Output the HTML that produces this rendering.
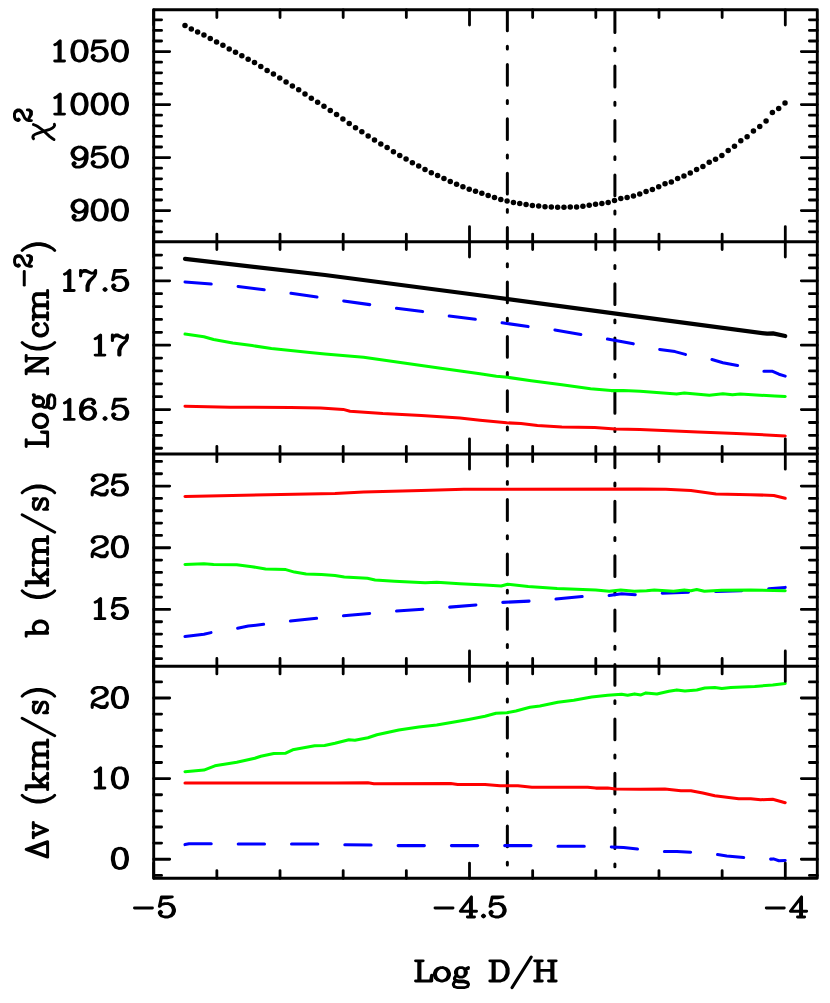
<!DOCTYPE html>
<html><head><meta charset="utf-8"><title>chart</title>
<style>html,body{margin:0;padding:0;background:#fff}svg{display:block}</style>
</head><body>
<svg width="830" height="1003" viewBox="0 0 830 1003">
<rect width="830" height="1003" fill="#fff"/>
<clipPath id="cp"><rect x="153.70" y="9.80" width="663.60" height="868.50"/></clipPath>
<g clip-path="url(#cp)">
<path d="M507.35 10.00V878.30" stroke="#000" stroke-width="3.0" stroke-linecap="round" stroke-dasharray="20.8 15.4 2.9 15.3" fill="none"/>
<path d="M614.90 11.70V878.30" stroke="#000" stroke-width="3.0" stroke-linecap="round" stroke-dasharray="20.8 15.4 2.9 15.3" fill="none"/>
</g>
<g fill="#000"><circle cx="185.00" cy="25.60" r="2.75"/><circle cx="191.32" cy="28.88" r="2.75"/><circle cx="197.63" cy="31.96" r="2.75"/><circle cx="203.95" cy="35.05" r="2.75"/><circle cx="210.26" cy="38.52" r="2.75"/><circle cx="216.58" cy="41.99" r="2.75"/><circle cx="222.90" cy="45.27" r="2.75"/><circle cx="229.21" cy="48.93" r="2.75"/><circle cx="235.53" cy="52.20" r="2.75"/><circle cx="241.84" cy="55.67" r="2.75"/><circle cx="248.16" cy="59.34" r="2.75"/><circle cx="254.48" cy="62.61" r="2.75"/><circle cx="260.79" cy="66.47" r="2.75"/><circle cx="267.11" cy="70.52" r="2.75"/><circle cx="273.42" cy="73.99" r="2.75"/><circle cx="279.74" cy="78.04" r="2.75"/><circle cx="286.06" cy="81.89" r="2.75"/><circle cx="292.37" cy="85.94" r="2.75"/><circle cx="298.69" cy="89.80" r="2.75"/><circle cx="305.00" cy="94.04" r="2.75"/><circle cx="311.32" cy="98.28" r="2.75"/><circle cx="317.64" cy="102.33" r="2.75"/><circle cx="323.95" cy="106.37" r="2.75"/><circle cx="330.27" cy="110.42" r="2.75"/><circle cx="336.58" cy="114.50" r="2.75"/><circle cx="342.90" cy="118.90" r="2.75"/><circle cx="349.22" cy="123.50" r="2.75"/><circle cx="355.53" cy="127.80" r="2.75"/><circle cx="361.85" cy="131.80" r="2.75"/><circle cx="368.16" cy="135.90" r="2.75"/><circle cx="374.48" cy="139.90" r="2.75"/><circle cx="380.80" cy="144.00" r="2.75"/><circle cx="387.11" cy="147.60" r="2.75"/><circle cx="393.43" cy="151.70" r="2.75"/><circle cx="399.74" cy="155.50" r="2.75"/><circle cx="406.06" cy="159.00" r="2.75"/><circle cx="412.38" cy="162.70" r="2.75"/><circle cx="418.69" cy="166.10" r="2.75"/><circle cx="425.01" cy="169.40" r="2.75"/><circle cx="431.32" cy="172.70" r="2.75"/><circle cx="437.64" cy="175.40" r="2.75"/><circle cx="443.96" cy="178.50" r="2.75"/><circle cx="450.27" cy="181.50" r="2.75"/><circle cx="456.59" cy="184.20" r="2.75"/><circle cx="462.90" cy="186.70" r="2.75"/><circle cx="469.22" cy="189.30" r="2.75"/><circle cx="475.54" cy="191.30" r="2.75"/><circle cx="481.85" cy="193.30" r="2.75"/><circle cx="488.17" cy="195.50" r="2.75"/><circle cx="494.48" cy="197.60" r="2.75"/><circle cx="500.80" cy="199.60" r="2.75"/><circle cx="507.12" cy="201.10" r="2.75"/><circle cx="513.43" cy="202.50" r="2.75"/><circle cx="519.75" cy="203.60" r="2.75"/><circle cx="526.06" cy="204.60" r="2.75"/><circle cx="532.38" cy="205.50" r="2.75"/><circle cx="538.70" cy="206.10" r="2.75"/><circle cx="545.01" cy="206.70" r="2.75"/><circle cx="551.33" cy="207.10" r="2.75"/><circle cx="557.64" cy="207.30" r="2.75"/><circle cx="563.96" cy="207.30" r="2.75"/><circle cx="570.28" cy="207.10" r="2.75"/><circle cx="576.59" cy="206.90" r="2.75"/><circle cx="582.91" cy="206.30" r="2.75"/><circle cx="589.22" cy="205.30" r="2.75"/><circle cx="595.54" cy="204.20" r="2.75"/><circle cx="601.86" cy="203.60" r="2.75"/><circle cx="608.17" cy="202.50" r="2.75"/><circle cx="614.49" cy="200.50" r="2.75"/><circle cx="620.80" cy="198.40" r="2.75"/><circle cx="627.12" cy="197.40" r="2.75"/><circle cx="633.44" cy="195.90" r="2.75"/><circle cx="639.75" cy="193.90" r="2.75"/><circle cx="646.07" cy="191.40" r="2.75"/><circle cx="652.38" cy="189.50" r="2.75"/><circle cx="658.70" cy="186.70" r="2.75"/><circle cx="665.02" cy="183.80" r="2.75"/><circle cx="671.33" cy="182.00" r="2.75"/><circle cx="677.65" cy="178.50" r="2.75"/><circle cx="683.96" cy="176.00" r="2.75"/><circle cx="690.28" cy="173.00" r="2.75"/><circle cx="696.60" cy="169.50" r="2.75"/><circle cx="702.91" cy="166.40" r="2.75"/><circle cx="709.23" cy="162.30" r="2.75"/><circle cx="715.54" cy="159.20" r="2.75"/><circle cx="721.86" cy="155.50" r="2.75"/><circle cx="728.18" cy="150.40" r="2.75"/><circle cx="734.49" cy="146.30" r="2.75"/><circle cx="740.81" cy="140.80" r="2.75"/><circle cx="747.12" cy="136.70" r="2.75"/><circle cx="753.44" cy="131.00" r="2.75"/><circle cx="759.76" cy="126.50" r="2.75"/><circle cx="766.07" cy="121.10" r="2.75"/><circle cx="772.39" cy="112.50" r="2.75"/><circle cx="778.70" cy="108.40" r="2.75"/><circle cx="785.02" cy="103.10" r="2.75"/></g>
<path d="M185.0 258.9L325.0 275.0L485.0 296.0L640.0 316.8L767.2 333.7L773.0 333.4L785.2 336.0" stroke="#000" stroke-width="4.2" fill="none" stroke-linecap="round" stroke-linejoin="round"/>
<path d="M185.0 282.0L212.0 284.1L237.7 286.4L265.2 289.9L290.7 293.2L318.0 297.2L343.3 300.9L370.3 304.7L395.9 308.2L423.3 311.7L448.4 315.9L476.3 319.4L501.1 322.6L528.8 326.7L554.1 329.8L581.4 334.5L606.4 338.8L633.6 343.9L658.7 349.3L675.0 351.6L685.3 354.4L710.9 359.2L722.9 362.7L737.9 365.5L762.4 371.3L772.6 371.3L779.0 374.2L785.2 376.1" stroke="#0000ff" stroke-width="3.05" fill="none" stroke-linecap="round" stroke-linejoin="round" stroke-dasharray="26.3 27.0"/>
<path d="M185.0 334.1L203.9 336.8L213.6 339.5L232.8 342.9L252.1 345.6L271.4 348.5L290.7 350.4L309.9 352.6L325.0 354.1L363.6 357.3L402.1 362.7L440.7 368.3L480.0 373.8L496.4 376.3L507.7 377.3L531.2 380.8L561.9 384.7L590.6 388.8L611.1 390.6L623.4 390.6L640.0 391.2L676.6 394.1L684.3 393.1L709.4 395.2L722.9 393.7L732.5 394.7L740.2 394.1L774.9 396.0L785.2 396.4" stroke="#00ff00" stroke-width="3.05" fill="none" stroke-linecap="round" stroke-linejoin="round"/>
<path d="M185.0 406.3L230.2 407.2L290.5 407.5L320.6 408.1L343.2 409.4L350.0 411.3L382.8 413.6L421.4 415.4L459.9 418.1L480.0 420.3L506.6 422.8L521.0 423.4L537.4 425.6L561.9 426.9L594.7 427.5L615.2 428.9L640.0 429.4L697.8 431.9L736.4 433.4L785.2 435.9" stroke="#ff0000" stroke-width="3.05" fill="none" stroke-linecap="round" stroke-linejoin="round"/>
<path d="M185.0 636.5L203.9 634.2L211.6 632.5L237.1 628.4L248.3 626.1L264.6 624.2L290.1 621.1L317.7 618.2L342.7 615.9L370.3 613.4L395.7 611.1L423.3 609.2L448.8 607.2L476.7 604.9L502.2 602.4L529.2 601.1L555.6 599.1L582.2 596.6L608.2 595.7L621.7 593.7L635.2 594.7L661.0 593.3L689.0 592.2L716.0 591.4L741.0 590.8L768.0 588.9L785.2 587.4" stroke="#0000ff" stroke-width="3.05" fill="none" stroke-linecap="round" stroke-linejoin="round" stroke-dasharray="26.3 27.0"/>
<path d="M185.0 564.4L203.9 563.7L213.6 564.4L236.7 564.8L252.1 566.7L265.6 569.1L285.8 569.6L294.5 572.1L306.1 574.1L321.5 574.5L335.0 575.4L344.3 577.0L367.4 578.3L375.1 579.9L394.4 581.2L425.2 582.7L436.8 582.2L459.9 583.7L485.0 585.1L501.2 586.0L507.6 584.3L528.2 586.4L557.1 588.5L595.7 589.9L609.2 591.2L620.7 589.9L634.2 591.2L646.6 590.8L654.3 589.9L673.6 591.2L684.2 589.9L690.9 590.8L696.7 589.5L704.4 591.2L721.7 590.3L750.7 589.9L785.2 590.8" stroke="#00ff00" stroke-width="3.05" fill="none" stroke-linecap="round" stroke-linejoin="round"/>
<path d="M185.0 496.4L335.0 493.5L363.6 492.0L421.4 490.6L463.8 489.2L485.0 489.3L640.0 489.1L665.8 489.3L690.9 490.6L716.0 493.9L750.7 494.8L773.8 495.4L785.2 498.3" stroke="#ff0000" stroke-width="3.05" fill="none" stroke-linecap="round" stroke-linejoin="round"/>
<path d="M185.0 844.6L189.0 843.8L212.3 843.8L237.8 844.0L265.8 844.0L291.1 844.0L319.0 844.0L344.0 844.8L372.3 845.0L397.4 845.6L478.6 845.6L531.9 845.6L557.4 846.2L585.1 846.2L610.3 847.0L623.6 847.6L638.6 849.2L663.9 851.5L676.9 851.5L690.9 852.3L716.8 854.5L726.8 855.9L743.7 857.5L769.3 859.2L773.5 858.9L778.9 860.7L785.2 860.5" stroke="#0000ff" stroke-width="3.05" fill="none" stroke-linecap="round" stroke-linejoin="round" stroke-dasharray="26.3 27.0"/>
<path d="M185.0 771.7L203.9 770.1L214.9 765.8L236.8 762.2L254.8 758.2L260.8 756.2L273.8 753.4L285.7 753.2L292.7 749.8L314.7 745.8L324.6 745.4L335.0 743.2L348.9 739.8L354.9 740.2L367.9 737.8L376.9 734.8L398.8 729.9L418.8 726.9L436.7 724.9L452.7 722.3L468.6 719.5L485.0 716.3L496.0 713.3L506.9 712.7L515.9 710.9L529.9 707.3L539.9 705.9L557.8 702.3L573.8 700.3L591.7 696.9L607.7 695.3L621.6 694.3L627.6 695.3L634.6 693.9L641.0 694.9L646.0 692.9L656.9 693.9L668.9 691.3L676.9 689.9L684.9 690.9L696.8 689.9L704.8 688.0L714.8 687.4L721.8 688.4L730.8 687.4L754.7 686.4L772.7 685.0L785.2 683.4" stroke="#00ff00" stroke-width="3.05" fill="none" stroke-linecap="round" stroke-linejoin="round"/>
<path d="M185.0 782.9L335.0 782.9L367.9 782.7L373.9 783.7L450.7 783.5L457.7 784.5L485.0 784.5L500.0 785.7L517.9 785.7L531.9 787.3L587.7 787.3L595.7 788.1L607.7 788.1L615.7 789.1L640.0 789.2L664.9 789.1L680.9 790.7L690.9 790.7L702.8 793.1L714.8 795.7L738.7 798.7L750.7 798.7L760.7 799.7L772.7 799.3L785.2 802.7" stroke="#ff0000" stroke-width="3.05" fill="none" stroke-linecap="round" stroke-linejoin="round"/>
<g stroke="#000" fill="none" stroke-linecap="round">
<rect x="153.7" y="9.8" width="663.60" height="868.50" stroke-width="2.9" stroke-linejoin="round"/>
<path d="M153.7 241.8H817.3" stroke-width="2.9"/>
<path d="M153.7 454.0H817.3" stroke-width="2.9"/>
<path d="M153.7 666.2H817.3" stroke-width="2.9"/>
<path d="M153.70 9.80V25.00M153.70 226.60V257.00M153.70 438.80V469.20M153.70 651.00V681.40M153.70 863.10V878.30M216.86 9.80V17.50M216.86 234.10V249.50M216.86 446.30V461.70M216.86 658.50V673.90M216.86 870.60V878.30M280.02 9.80V17.50M280.02 234.10V249.50M280.02 446.30V461.70M280.02 658.50V673.90M280.02 870.60V878.30M343.18 9.80V17.50M343.18 234.10V249.50M343.18 446.30V461.70M343.18 658.50V673.90M343.18 870.60V878.30M406.34 9.80V17.50M406.34 234.10V249.50M406.34 446.30V461.70M406.34 658.50V673.90M406.34 870.60V878.30M469.50 9.80V25.00M469.50 226.60V257.00M469.50 438.80V469.20M469.50 651.00V681.40M469.50 863.10V878.30M532.66 9.80V17.50M532.66 234.10V249.50M532.66 446.30V461.70M532.66 658.50V673.90M532.66 870.60V878.30M595.82 9.80V17.50M595.82 234.10V249.50M595.82 446.30V461.70M595.82 658.50V673.90M595.82 870.60V878.30M658.98 9.80V17.50M658.98 234.10V249.50M658.98 446.30V461.70M658.98 658.50V673.90M658.98 870.60V878.30M722.14 9.80V17.50M722.14 234.10V249.50M722.14 446.30V461.70M722.14 658.50V673.90M722.14 870.60V878.30M785.30 9.80V25.00M785.30 226.60V257.00M785.30 438.80V469.20M785.30 651.00V681.40M785.30 863.10V878.30M153.7 231.80h7.9M817.3 231.80h-7.9M153.7 221.20h7.9M817.3 221.20h-7.9M153.7 210.60h16.0M817.3 210.60h-16.0M153.7 200.00h7.9M817.3 200.00h-7.9M153.7 189.40h7.9M817.3 189.40h-7.9M153.7 178.80h7.9M817.3 178.80h-7.9M153.7 168.20h7.9M817.3 168.20h-7.9M153.7 157.60h16.0M817.3 157.60h-16.0M153.7 147.00h7.9M817.3 147.00h-7.9M153.7 136.40h7.9M817.3 136.40h-7.9M153.7 125.80h7.9M817.3 125.80h-7.9M153.7 115.20h7.9M817.3 115.20h-7.9M153.7 104.60h16.0M817.3 104.60h-16.0M153.7 94.00h7.9M817.3 94.00h-7.9M153.7 83.40h7.9M817.3 83.40h-7.9M153.7 72.80h7.9M817.3 72.80h-7.9M153.7 62.20h7.9M817.3 62.20h-7.9M153.7 51.60h16.0M817.3 51.60h-16.0M153.7 41.00h7.9M817.3 41.00h-7.9M153.7 30.40h7.9M817.3 30.40h-7.9M153.7 19.80h7.9M817.3 19.80h-7.9M153.7 448.24h7.9M817.3 448.24h-7.9M153.7 435.36h7.9M817.3 435.36h-7.9M153.7 422.48h7.9M817.3 422.48h-7.9M153.7 409.60h16.0M817.3 409.60h-16.0M153.7 396.72h7.9M817.3 396.72h-7.9M153.7 383.84h7.9M817.3 383.84h-7.9M153.7 370.96h7.9M817.3 370.96h-7.9M153.7 358.08h7.9M817.3 358.08h-7.9M153.7 345.20h16.0M817.3 345.20h-16.0M153.7 332.32h7.9M817.3 332.32h-7.9M153.7 319.44h7.9M817.3 319.44h-7.9M153.7 306.56h7.9M817.3 306.56h-7.9M153.7 293.68h7.9M817.3 293.68h-7.9M153.7 280.80h16.0M817.3 280.80h-16.0M153.7 267.92h7.9M817.3 267.92h-7.9M153.7 255.04h7.9M817.3 255.04h-7.9M153.7 658.72h7.9M817.3 658.72h-7.9M153.7 646.39h7.9M817.3 646.39h-7.9M153.7 634.06h7.9M817.3 634.06h-7.9M153.7 621.73h7.9M817.3 621.73h-7.9M153.7 609.40h16.0M817.3 609.40h-16.0M153.7 597.07h7.9M817.3 597.07h-7.9M153.7 584.74h7.9M817.3 584.74h-7.9M153.7 572.41h7.9M817.3 572.41h-7.9M153.7 560.08h7.9M817.3 560.08h-7.9M153.7 547.75h16.0M817.3 547.75h-16.0M153.7 535.42h7.9M817.3 535.42h-7.9M153.7 523.09h7.9M817.3 523.09h-7.9M153.7 510.76h7.9M817.3 510.76h-7.9M153.7 498.43h7.9M817.3 498.43h-7.9M153.7 486.10h16.0M817.3 486.10h-16.0M153.7 473.77h7.9M817.3 473.77h-7.9M153.7 461.44h7.9M817.3 461.44h-7.9M153.7 875.38h7.9M817.3 875.38h-7.9M153.7 859.25h16.0M817.3 859.25h-16.0M153.7 843.12h7.9M817.3 843.12h-7.9M153.7 827.00h7.9M817.3 827.00h-7.9M153.7 810.88h7.9M817.3 810.88h-7.9M153.7 794.75h7.9M817.3 794.75h-7.9M153.7 778.62h16.0M817.3 778.62h-16.0M153.7 762.50h7.9M817.3 762.50h-7.9M153.7 746.38h7.9M817.3 746.38h-7.9M153.7 730.25h7.9M817.3 730.25h-7.9M153.7 714.12h7.9M817.3 714.12h-7.9M153.7 698.00h16.0M817.3 698.00h-16.0M153.7 681.88h7.9M817.3 681.88h-7.9" stroke-width="2.8"/>
</g>
<defs><path id="g0" d="M4 -17L3 -12L3 -9L4 -4L6 -1L9 0L7 -1L6 -2L5 -4L4 -9L4 -12L5 -17L6 -19L7 -20L9 -21L6 -20L4 -17M15 -17L16 -12L16 -9L15 -4L14 -2L13 -1L11 0L14 -1L16 -4L17 -9L17 -12L16 -17L14 -20L11 -21L13 -20L14 -19L15 -17M9 -21L11 -21M9 0L11 0"/><path id="g1" d="M6 -17L8 -18L11 -21L11 0M10 -20L10 0M6 0L15 0"/><path id="g2" d="M4 -17L5 -16L4 -15L3 -16L3 -17L4 -19L5 -20L8 -21L12 -21L14 -20L15 -19L16 -17L16 -15L15 -13L12 -11L6 -8L4 -6L3 -3L3 0M17 -3L16 -2L14 -1L11 -1L6 -3L11 0L15 0L16 -1L17 -3L17 -5M12 -21L15 -20L16 -19L17 -17L17 -15L16 -13L13 -11L8 -9M3 -2L4 -3L6 -3"/><path id="g3" d="M4 -17L5 -16L4 -15L3 -16L3 -17L4 -19L5 -20L8 -21L12 -21L15 -20L16 -18L16 -15L15 -13L12 -12L9 -12M4 -4L5 -5L4 -6L3 -5L3 -4L4 -2L5 -1L8 0L12 0L15 -1L16 -2L17 -4L17 -7L16 -9L14 -11L12 -12L14 -13L15 -15L15 -18L14 -20L12 -21M15 -10L16 -7L16 -4L15 -2L14 -1L12 0"/><path id="g4" d="M18 -6L2 -6L13 -21L13 0M12 -19L12 0M9 0L16 0"/><path id="g5" d="M5 -20L10 -20L15 -21L5 -21L3 -11L5 -13L8 -14L11 -14L14 -13L16 -11L17 -8L17 -6L16 -3L14 -1L11 0L8 0L5 -1L4 -2L3 -4L3 -5L4 -6L5 -5L4 -4M11 -14L13 -13L15 -11L16 -8L16 -6L15 -3L13 -1L11 0"/><path id="g6" d="M3 -12L3 -6L4 -3L6 -1L9 0L7 -1L5 -3L4 -6L4 -12L5 -16L6 -18L8 -20L10 -21L7 -20L5 -18L4 -16L3 -12M11 -13L13 -12L15 -10L16 -7L16 -6L15 -3L13 -1L11 0L14 -1L16 -3L17 -6L17 -7L16 -10L14 -12L11 -13L10 -13L7 -12L5 -10L4 -7M10 -21L13 -21L15 -20L16 -18L16 -17L15 -16L14 -17L15 -18M9 0L11 0"/><path id="g7" d="M10 0L10 -5L11 -8L12 -10L16 -15L11 -10L10 -8L9 -5L9 0M3 -21L3 -15M8 -21L13 -18L8 -20L6 -20L4 -19L6 -21L8 -21M13 -18L15 -18L16 -19L17 -21L17 -18L16 -15M4 -19L3 -17"/><path id="g8" d="M8 -21L12 -21L15 -20L16 -18L16 -15L15 -13L12 -12L8 -12L5 -13L4 -15L4 -18L5 -20L8 -21L6 -20L5 -18L5 -15L6 -13L8 -12L5 -11L4 -10L3 -8L3 -4L4 -2L5 -1L8 0L12 0L15 -1L16 -2L17 -4L17 -8L16 -10L15 -11L12 -12L14 -13L15 -15L15 -18L14 -20L12 -21M8 -12L6 -11L5 -10L4 -8L4 -4L5 -2L6 -1L8 0M12 -12L14 -11L15 -10L16 -8L16 -4L15 -2L14 -1L12 0"/><path id="g9" d="M16 -15L16 -9L15 -5L14 -3L12 -1L10 0L13 -1L15 -3L16 -5L17 -9L17 -15L16 -18L14 -20L11 -21L13 -20L15 -18L16 -15M9 -21L6 -20L4 -18L3 -15L3 -14L4 -11L6 -9L9 -8L7 -9L5 -11L4 -14L4 -15L5 -18L7 -20L9 -21L11 -21M16 -14L15 -11L13 -9L10 -8L9 -8M5 -3L6 -4L5 -5L4 -4L4 -3L5 -1L7 0L10 0"/><path id="g10" d="M5 -2L4 -1L5 0L6 -1L5 -2"/><path id="g11" d="M4 -9L22 -9"/><path id="g12" d="M5 -16L4 -11L4 -7L5 -2L7 2L9 5L7 1L6 -2L5 -7L5 -11L6 -16L7 -19L9 -23L7 -20L5 -16M11 -25L9 -23M9 5L11 7"/><path id="g13" d="M8 -16L9 -11L9 -7L8 -2L7 1L5 5L7 2L9 -2L10 -7L10 -11L9 -16L7 -20L5 -23L7 -19L8 -16M3 -25L5 -23M5 5L3 7"/><path id="g14" d="M20 -25L2 7"/><path id="g15" d="M5 -21L5 0M6 -21L6 0M2 0L17 0L17 -6L16 0M2 -21L9 -21"/><path id="g16" d="M9 -14L6 -13L4 -11L3 -8L3 -6L4 -3L6 -1L9 0L7 -1L5 -3L4 -6L4 -8L5 -11L7 -13L9 -14L11 -14L14 -13L16 -11L17 -8L17 -6L16 -3L14 -1L11 0L13 -1L15 -3L16 -6L16 -8L15 -11L13 -13L11 -14M9 0L11 0"/><path id="g17" d="M6 0L3 1L2 3L2 4L3 6L6 7L12 7L15 6L16 4L16 3L15 1L12 0L7 0L4 -1L3 -2L4 0L7 1L12 1L15 2L16 3M5 -11L5 -7L6 -5L8 -4L10 -4L12 -5L13 -7L13 -11L12 -13L10 -14L8 -14L6 -13L5 -11M16 -14L14 -13L16 -13L16 -14M6 -13L5 -12L4 -10L4 -8L5 -6L4 -5L3 -3L3 -2M12 -13L13 -12L14 -10L14 -8L13 -6L12 -5M14 -13L13 -12M5 -6L6 -5"/><path id="g18" d="M2 -21L6 -21L18 -2M6 -19L18 0L18 -21M5 -21L5 0M15 -21L21 -21M2 0L8 0"/><path id="g19" d="M9 -14L6 -13L4 -11L3 -8L3 -6L4 -3L6 -1L9 0L7 -1L5 -3L4 -6L4 -8L5 -11L7 -13L9 -14L12 -14L14 -13L16 -11L16 -10L15 -9L14 -10L15 -11M16 -3L14 -1L11 0L9 0"/><path id="g20" d="M5 -14L5 0M2 -14L6 -14L6 0M17 0L17 -11L16 -13L13 -14L15 -13L16 -11L16 0M28 0L28 -11L27 -13L24 -14L26 -13L27 -11L27 0M2 0L9 0M13 0L20 0M24 0L31 0M13 -14L11 -14L8 -13L6 -11M24 -14L22 -14L19 -13L17 -11"/><path id="g21" d="M5 -21L5 0M2 -21L6 -21L6 0M12 -14L15 -13L17 -11L18 -8L18 -6L17 -3L15 -1L12 0L14 -1L16 -3L17 -6L17 -8L16 -11L14 -13L12 -14L10 -14L8 -13L6 -11M6 -3L8 -1L10 0L12 0"/><path id="g22" d="M5 -21L5 0M2 -21L6 -21L6 0M16 -14L6 -4M10 -8L16 0M11 -8L17 0M2 0L9 0M13 -14L19 -14M13 0L19 0"/><path id="g23" d="M3 -11L4 -10L6 -9L11 -7L13 -6L14 -5L14 -2L13 -1L11 0L7 0L5 -1L4 -2L3 -4L3 0L4 -2M13 -12L14 -10L14 -14L13 -12L12 -13L10 -14L6 -14L4 -13L3 -12L3 -10L4 -9L6 -8L11 -6L13 -5L14 -4"/><path id="g24" d="M3 -14L9 0L15 -14M4 -14L9 -2M1 -14L7 -14M11 -14L17 -14"/><path id="g25" d="M5 -21L5 0M6 -21L6 0M2 -21L12 -21L15 -20L17 -18L18 -16L19 -13L19 -8L18 -5L17 -3L15 -1L12 0L2 0M12 -21L14 -20L16 -18L17 -16L18 -13L18 -8L17 -5L16 -3L14 -1L12 0"/><path id="g26" d="M5 -21L5 0M6 -21L6 0M18 -21L18 0M19 -21L19 0M6 -11L18 -11M2 -21L9 -21M15 -21L22 -21M2 0L9 0M15 0L22 0"/><path id="g27" d="M2 0L10 -21L18 0L2 0M3 0L10.5 -19.5M9.2 -19L16.8 -0.5"/><path id="g28" d="M2 -12L3 -14L5 -14L7 -12L8 -9L11 2L12 5L14 7L16 7L17 5M17 -14L16 -12L14 -9L5 2L3 5L2 7"/></defs>
<g stroke="#000" stroke-width="3.671" fill="none" stroke-linecap="round" stroke-linejoin="round"><use href="#g11" transform="translate(31.50 288.26) rotate(-90) scale(0.7663 0.8058)"/><use href="#g2" transform="translate(31.50 268.56) rotate(-90) scale(0.7663 0.8058)"/><use href="#g2" transform="translate(31.40 122.91) rotate(-90) scale(0.7663 0.8058)"/></g>
<g stroke="#000" stroke-width="2.9" fill="none" stroke-linecap="round" stroke-linejoin="round"><use href="#g0" transform="translate(109.20 61.00) scale(1.0700 0.9600)"/><use href="#g5" transform="translate(89.00 61.00) scale(1.0700 0.9600)"/><use href="#g0" transform="translate(68.80 61.00) scale(1.0700 0.9600)"/><use href="#g1" transform="translate(48.37 61.00) scale(1.0700 0.9600)"/><use href="#g0" transform="translate(109.20 114.05) scale(1.0700 0.9600)"/><use href="#g0" transform="translate(89.00 114.05) scale(1.0700 0.9600)"/><use href="#g0" transform="translate(68.80 114.05) scale(1.0700 0.9600)"/><use href="#g1" transform="translate(48.37 114.05) scale(1.0700 0.9600)"/><use href="#g0" transform="translate(109.20 167.20) scale(1.0700 0.9600)"/><use href="#g5" transform="translate(89.00 167.20) scale(1.0700 0.9600)"/><use href="#g9" transform="translate(68.80 167.20) scale(1.0700 0.9600)"/><use href="#g0" transform="translate(109.20 220.15) scale(1.0700 0.9600)"/><use href="#g0" transform="translate(89.00 220.15) scale(1.0700 0.9600)"/><use href="#g9" transform="translate(68.80 220.15) scale(1.0700 0.9600)"/><use href="#g5" transform="translate(109.50 290.50) scale(1.0700 0.9600)"/><use href="#g10" transform="translate(99.70 290.50) scale(1.0700 0.9600)"/><use href="#g7" transform="translate(77.40 290.50) scale(1.0700 0.9600)"/><use href="#g1" transform="translate(58.06 290.50) scale(1.0700 0.9600)"/><use href="#g7" transform="translate(109.20 355.10) scale(1.0700 0.9600)"/><use href="#g1" transform="translate(88.77 355.10) scale(1.0700 0.9600)"/><use href="#g5" transform="translate(109.50 419.40) scale(1.0700 0.9600)"/><use href="#g10" transform="translate(99.70 419.40) scale(1.0700 0.9600)"/><use href="#g6" transform="translate(77.40 419.40) scale(1.0700 0.9600)"/><use href="#g1" transform="translate(58.06 419.40) scale(1.0700 0.9600)"/><use href="#g5" transform="translate(109.20 495.10) scale(1.0700 0.9600)"/><use href="#g2" transform="translate(89.00 495.10) scale(1.0700 0.9600)"/><use href="#g0" transform="translate(109.20 556.85) scale(1.0700 0.9600)"/><use href="#g2" transform="translate(89.00 556.85) scale(1.0700 0.9600)"/><use href="#g5" transform="translate(109.20 618.65) scale(1.0700 0.9600)"/><use href="#g1" transform="translate(88.77 618.65) scale(1.0700 0.9600)"/><use href="#g0" transform="translate(109.20 707.60) scale(1.0700 0.9600)"/><use href="#g2" transform="translate(89.00 707.60) scale(1.0700 0.9600)"/><use href="#g0" transform="translate(109.20 788.00) scale(1.0700 0.9600)"/><use href="#g1" transform="translate(88.77 788.00) scale(1.0700 0.9600)"/><use href="#g0" transform="translate(109.20 868.45) scale(1.0700 0.9600)"/><path d="M134.45 908.00h18"/><use href="#g5" transform="translate(156.20 917.00) scale(1.0700 0.9600)"/><path d="M435.00 908.00h18"/><use href="#g4" transform="translate(458.23 917.00) scale(1.0165 0.9600)"/><use href="#g10" transform="translate(478.15 917.00) scale(1.0700 0.9600)"/><use href="#g5" transform="translate(486.90 917.00) scale(1.0700 0.9600)"/><path d="M766.25 908.00h18"/><use href="#g4" transform="translate(788.34 917.00) scale(1.0165 0.9600)"/><use href="#g15" transform="translate(413.48 981.00) scale(1.0700 0.9600)"/><use href="#g16" transform="translate(431.20 981.00) scale(1.0700 0.9600)"/><use href="#g17" transform="translate(451.27 981.00) scale(1.0700 0.9600)"/><use href="#g25" transform="translate(487.76 981.00) scale(1.0700 0.9600)"/><use href="#g14" transform="translate(509.83 981.00) scale(1.0700 0.9600)"/><use href="#g26" transform="translate(532.56 981.00) scale(1.0700 0.9600)"/><use href="#g15" transform="translate(47.60 448.51) rotate(-90) scale(0.9700 1.0200)"/><use href="#g16" transform="translate(47.60 430.60) rotate(-90) scale(0.9700 1.0200)"/><use href="#g17" transform="translate(47.60 410.33) rotate(-90) scale(0.9700 1.0200)"/><use href="#g18" transform="translate(47.60 375.85) rotate(-90) scale(0.9700 1.0200)"/><use href="#g12" transform="translate(47.60 353.07) rotate(-90) scale(0.9700 1.0200)"/><use href="#g19" transform="translate(47.60 339.01) rotate(-90) scale(0.9700 1.0200)"/><use href="#g20" transform="translate(47.60 321.85) rotate(-90) scale(1.0088 1.0200)"/><use href="#g13" transform="translate(47.60 253.41) rotate(-90) scale(0.9700 1.0200)"/><use href="#g12" transform="translate(47.60 601.48) rotate(-90) scale(0.9700 1.0200)"/><use href="#g22" transform="translate(47.60 587.58) rotate(-90) scale(0.9700 1.0200)"/><use href="#g20" transform="translate(47.60 567.65) rotate(-90) scale(1.0088 1.0200)"/><use href="#g14" transform="translate(47.60 534.17) rotate(-90) scale(0.9700 1.0200)"/><use href="#g23" transform="translate(47.60 512.35) rotate(-90) scale(0.9700 1.0200)"/><use href="#g13" transform="translate(47.60 495.70) rotate(-90) scale(0.9700 1.0200)"/><use href="#g12" transform="translate(47.60 805.88) rotate(-90) scale(0.9700 1.0200)"/><use href="#g22" transform="translate(47.60 791.58) rotate(-90) scale(0.9700 1.0200)"/><use href="#g20" transform="translate(47.60 771.15) rotate(-90) scale(1.0088 1.0200)"/><use href="#g14" transform="translate(47.60 737.67) rotate(-90) scale(0.9700 1.0200)"/><use href="#g23" transform="translate(47.60 715.75) rotate(-90) scale(0.9700 1.0200)"/><use href="#g13" transform="translate(47.60 699.10) rotate(-90) scale(0.9700 1.0200)"/><use href="#g21" transform="translate(47.60 638.30) rotate(-90) scale(0.9700 1.0200)"/><use href="#g27" transform="translate(47.60 859.10) rotate(-90) scale(0.9700 1.0200)"/><use href="#g24" transform="translate(47.60 838.93) rotate(-90) scale(0.9700 1.0200)"/><path d="M33.4 124.5C35 125.2 36.5 125.8 37.6 126.4L44 131.2L49.8 136.6C51.5 137.9 52.8 138.9 54.0 139.5"/><path d="M33.5 138.6C32.8 137.9 32.9 136.3 33.5 135.4C34.5 134.3 36 133.8 37.5 133.3L44 131.2L49.8 129.3C51.5 128.7 53 127.9 54 126.6C54.7 125.7 54.8 124.9 54.4 124.3"/></g>
</svg>
</body></html>
